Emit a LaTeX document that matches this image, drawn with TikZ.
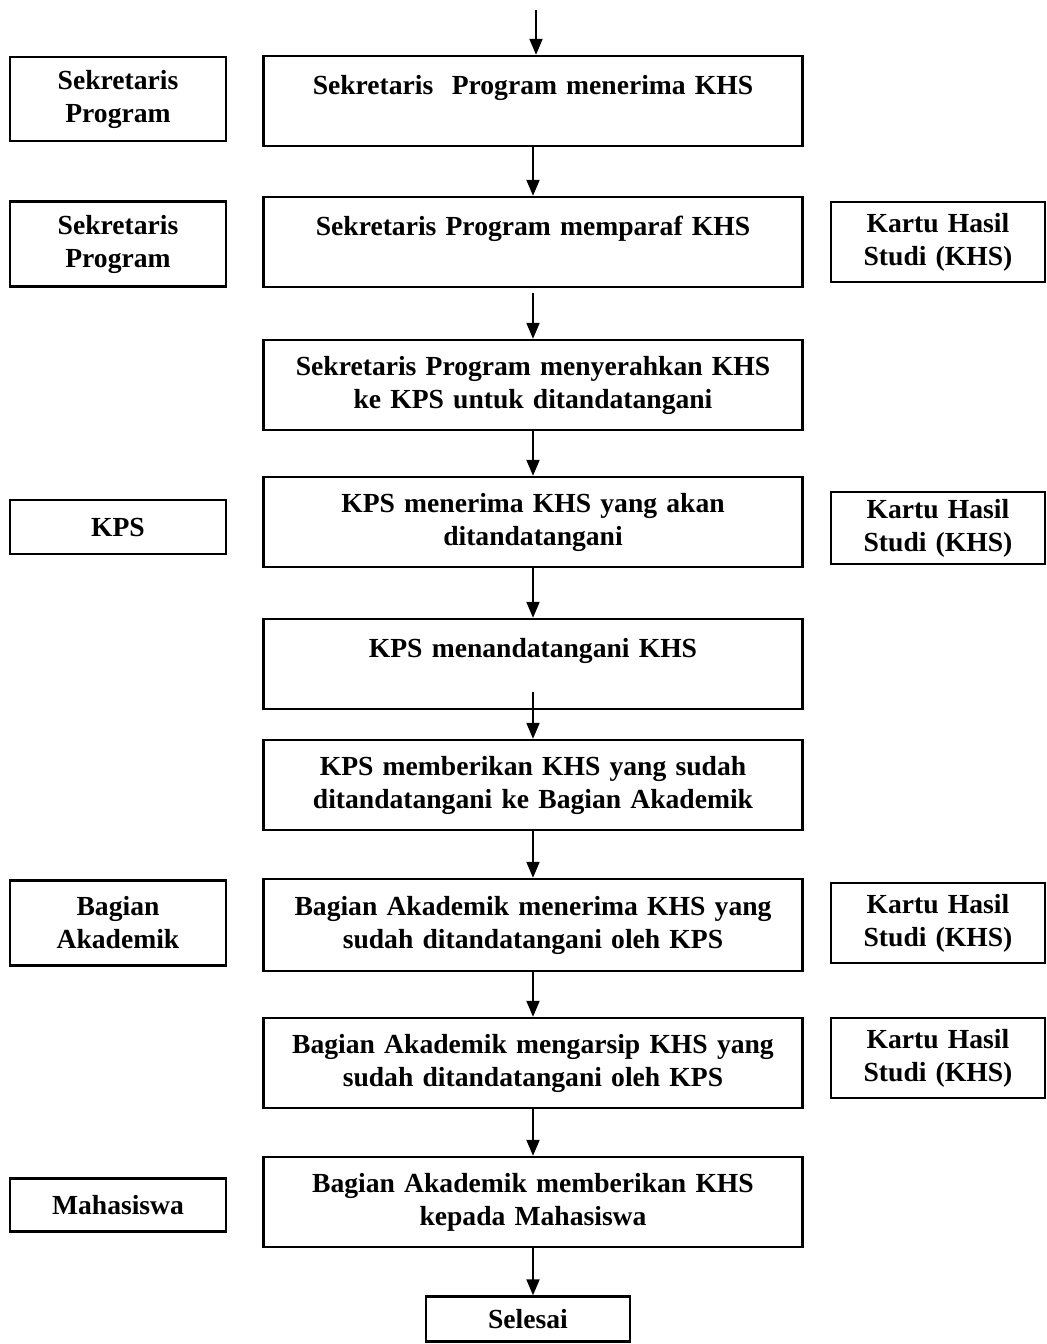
\documentclass[tikz,border=0pt]{standalone}
\usepackage{fontspec}
\setmainfont{Liberation Serif}
\usetikzlibrary{arrows.meta}

\begin{document}
\begin{tikzpicture}[x=0.5pt,y=-0.5pt,
	font=\bfseries\fontsize{13.8}{16.5}\selectfont,
	proses/.style={draw,line width=1.2pt,align=center,text width=262pt,
		minimum width=269.5pt,minimum height=45pt,inner sep=0pt},
	pelaku/.style={draw,line width=1.2pt,align=center,text width=104pt,
		minimum width=108pt,inner sep=0pt},
	dokumen/.style={draw,line width=1.2pt,align=center,text width=103pt,
		minimum width=107pt,minimum height=40pt,inner sep=0pt},
	panah/.style={line width=1pt,-{Triangle[width=6.5pt,length=8pt]}}]
	
	\useasboundingbox (0,0) rectangle (1047,1344);
	
	% alur utama
	\node[proses] (m1) at (533,101) {Sekretaris\ \ Program menerima KHS\\~};
	\node[proses] (m2) at (533,242) {Sekretaris Program memparaf KHS\\~};
	\node[proses] (m3) at (533,385) {Sekretaris Program menyerahkan KHS\\ke KPS untuk ditandatangani};
	\node[proses] (m4) at (533,522) {KPS menerima KHS yang akan\\ditandatangani};
	\node[proses] (m5) at (533,664) {KPS menandatangani KHS\\~};
	\node[proses] (m6) at (533,785) {KPS memberikan KHS yang sudah\\ditandatangani ke Bagian Akademik};
	\node[proses,minimum height=46pt] (m7) at (533,925) {Bagian Akademik menerima KHS yang\\sudah ditandatangani oleh KPS};
	\node[proses] (m8) at (533,1063) {Bagian Akademik mengarsip KHS yang\\sudah ditandatangani oleh KPS};
	\node[proses] (m9) at (533,1202) {Bagian Akademik memberikan KHS\\kepada Mahasiswa};
	\node[draw,line width=1.2pt,minimum width=102pt,minimum height=22.5pt,inner sep=0pt] (selesai) at (528,1319) {Selesai};
	
	% pelaku
	\node[pelaku,minimum height=42pt] (p1) at (118,99) {Sekretaris\\Program};
	\node[pelaku,minimum height=42.5pt] (p2) at (118,244) {Sekretaris\\Program};
	\node[pelaku,minimum height=27pt] (p3) at (118,527) {KPS};
	\node[pelaku,minimum height=42.5pt] (p4) at (118,923) {Bagian\\Akademik};
	\node[pelaku,minimum height=26.5pt] (p5) at (118,1205) {Mahasiswa};
	
	% dokumen
	\node[dokumen] (d1) at (938,242) {Kartu Hasil\\Studi (KHS)};
	\node[dokumen,minimum height=36pt] (d2) at (938,528) {Kartu Hasil\\Studi (KHS)};
	\node[dokumen] (d3) at (938,923) {Kartu Hasil\\Studi (KHS)};
	\node[dokumen] (d4) at (938,1058) {Kartu Hasil\\Studi (KHS)};
	
	\coordinate (mulai) at (536,10);
	\draw[panah] (mulai) -- (mulai |- m1.north);
	\draw[panah] (m1.south) -- (m2.north);
	\draw[panah] ([yshift=-2.5pt]m2.south) -- (m3.north);
	\draw[panah] (m3.south) -- (m4.north);
	\draw[panah] (m4.south) -- (m5.north);
	\draw[panah] ([yshift=9pt]m5.south) -- (m6.north);
	\draw[panah] (m6.south) -- (m7.north);
	\draw[panah] (m7.south) -- (m8.north);
	\draw[panah] (m8.south) -- (m9.north);
	\draw[panah] (m9.south) -- (m9.south |- selesai.north);
\end{tikzpicture}
\end{document}
